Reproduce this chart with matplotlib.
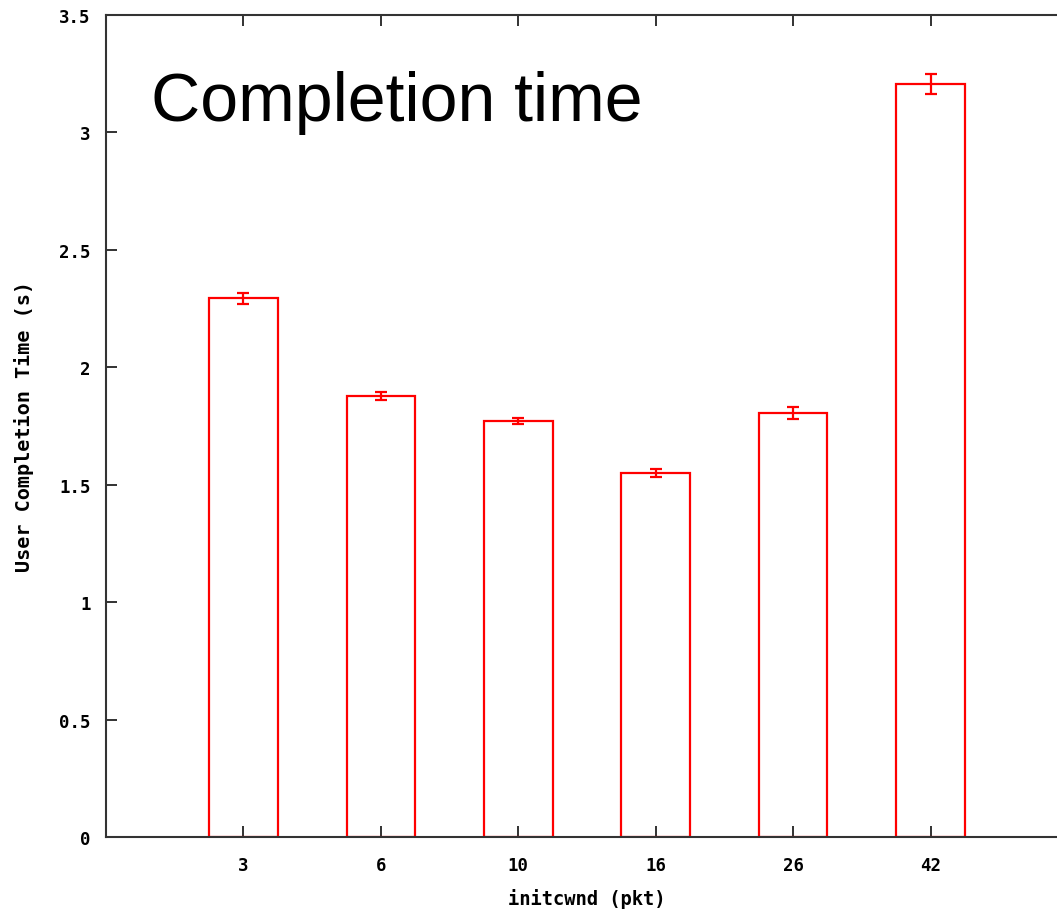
import matplotlib
matplotlib.use("Agg")
import matplotlib.pyplot as plt

# initial congestion window sizes and mean user completion times
initcwnd = ["3", "6", "10", "16", "26", "42"]
completion_time = [2.293, 1.877, 1.771, 1.550, 1.804, 3.207]
completion_err = [0.023, 0.017, 0.012, 0.017, 0.026, 0.042]
yticks = [0, 0.5, 1, 1.5, 2, 2.5, 3, 3.5]
ytick_labels = ["0", "0.5", "1", "1.5", "2", "2.5", "3", "3.5"]

W, H, DPI = 1057, 912, 100
fig = plt.figure(figsize=(W / DPI, H / DPI), dpi=DPI)
ax = fig.add_axes([106 / W, (H - 838) / H, 962 / W, 822 / H])

tick_font = {"family": "DejaVu Sans Mono", "weight": "bold", "size": 12.5}
xlabel_font = {"family": "DejaVu Sans Mono", "weight": "bold", "size": 13.5}
ylabel_font = {"family": "DejaVu Sans Mono", "weight": "bold", "size": 14.5}

pos = list(range(1, len(initcwnd) + 1))
ax.bar(pos, completion_time, width=0.5, facecolor="none", edgecolor="#ff0000",
       linewidth=1.6, zorder=2)
ax.errorbar(pos, completion_time, yerr=completion_err, fmt="none",
            ecolor="#ff0000", elinewidth=1.6, capsize=4, capthick=1.6, zorder=3)

ax.set_xlim(0, 7)
ax.set_ylim(0, 3.5)
ax.set_xticks(pos)
ax.set_xticklabels(initcwnd, fontdict=tick_font)
ax.set_yticks(yticks)
ax.set_yticklabels(ytick_labels, fontdict=tick_font)
ax.tick_params(direction="in", length=8, width=1.3, color="#222222",
               top=True, right=True)
ax.tick_params(axis="x", pad=14)
ax.tick_params(axis="y", pad=11)

for s in ax.spines.values():
    s.set_linewidth(1.5)
    s.set_color("#333333")

ax.set_xlabel("initcwnd (pkt)", fontdict=xlabel_font, labelpad=10)
ax.set_ylabel("User Completion Time (s)", fontdict=ylabel_font, labelpad=18)

fig.text(151 / W, 1 - 121 / H, "Completion time", family="Liberation Sans",
         fontsize=49, color="black", va="baseline", ha="left")

fig.savefig("out.png", dpi=DPI)
